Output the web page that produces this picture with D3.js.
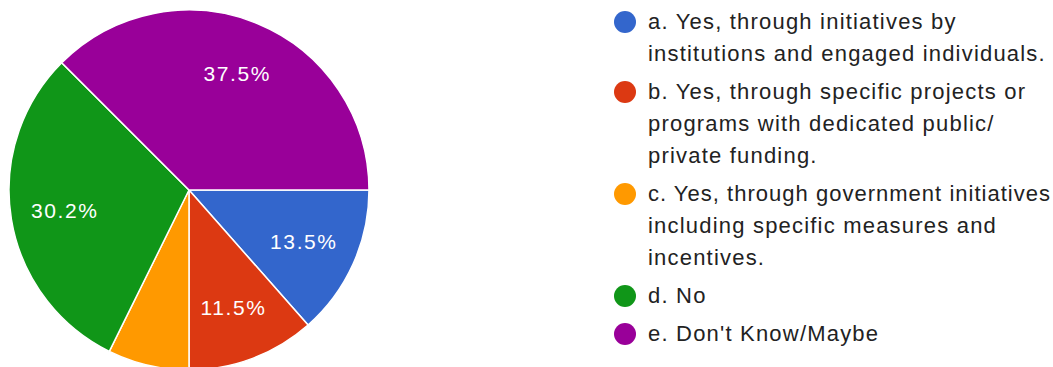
<!DOCTYPE html>
<html>
<head>
<meta charset="utf-8">
<script src="https://cdn.jsdelivr.net/npm/d3@7"></script>
<style>
  body { margin: 0; background: #fff; }
  svg { display: block; font-family: Arial, "Liberation Sans", sans-serif; }
</style>
</head>
<body>
<script>
// answers and share of responses (%)
var categories = ["a", "b", "c", "d", "e"];
var values = [13.5, 11.5, 7.3, 30.2, 37.5];
var colors = ["#3366cc", "#dc3912", "#ff9900", "#109618", "#990099"];
var legendLines = [
  ["a. Yes, through initiatives by", "institutions and engaged individuals."],
  ["b. Yes, through specific projects or", "programs with dedicated public/", "private funding."],
  ["c. Yes, through government initiatives", "including specific measures and", "incentives."],
  ["d. No"],
  ["e. Don't Know/Maybe"]
];

var width = 1053, height = 367;
var cx = 189, cy = 190, radius = 180;

var svg = d3.select("body").append("svg")
    .attr("width", width)
    .attr("height", height);

var pie = d3.pie()
    .sort(null)
    .startAngle(Math.PI / 2)
    .endAngle(Math.PI / 2 + 2 * Math.PI)
    .value(function(d) { return d; });

var arc = d3.arc().innerRadius(0).outerRadius(radius);
var labelArc = d3.arc().innerRadius(126).outerRadius(126);

var g = svg.append("g")
    .attr("transform", "translate(" + cx + "," + cy + ")");

var slices = pie(values);

g.selectAll("path")
    .data(slices)
  .enter().append("path")
    .attr("d", arc)
    .style("fill", function(d, i) { return colors[i]; })
    .style("stroke", "#fff")
    .style("stroke-width", 1.5);

g.selectAll("text.pct")
    .data(slices.filter(function(d) { return d.value > 10; }))
  .enter().append("text")
    .attr("class", "pct")
    .attr("transform", function(d) { return "translate(" + labelArc.centroid(d) + ")"; })
    .attr("dy", "0.36em")
    .attr("text-anchor", "middle")
    .style("fill", "#fff")
    .style("font-size", "21px")
    .style("letter-spacing", "1.6px")
    .text(function(d) { return d.value.toFixed(1) + "%"; });

// legend
var lineH = 32, itemGap = 38, textX = 648, maxW = 402;
var legend = svg.append("g");
var y = 29;
legendLines.forEach(function(lines, i) {
  var item = legend.append("g");
  item.append("circle")
      .attr("cx", 625)
      .attr("cy", y - 7)
      .attr("r", 11)
      .style("fill", colors[i]);
  lines.forEach(function(t, j) {
    var txt = item.append("text")
        .attr("x", textX)
        .attr("y", y + j * lineH)
        .style("font-size", "22px")
        .style("letter-spacing", "1.2px")
        .style("fill", "#222")
        .text(t);
    // squeeze lines that would run past the right edge
    if (txt.node().getComputedTextLength() > maxW) {
      txt.style("letter-spacing", null)
         .attr("textLength", maxW)
         .attr("lengthAdjust", "spacing");
    }
  });
  y += (lines.length - 1) * lineH + itemGap;
});
</script>
</body>
</html>
